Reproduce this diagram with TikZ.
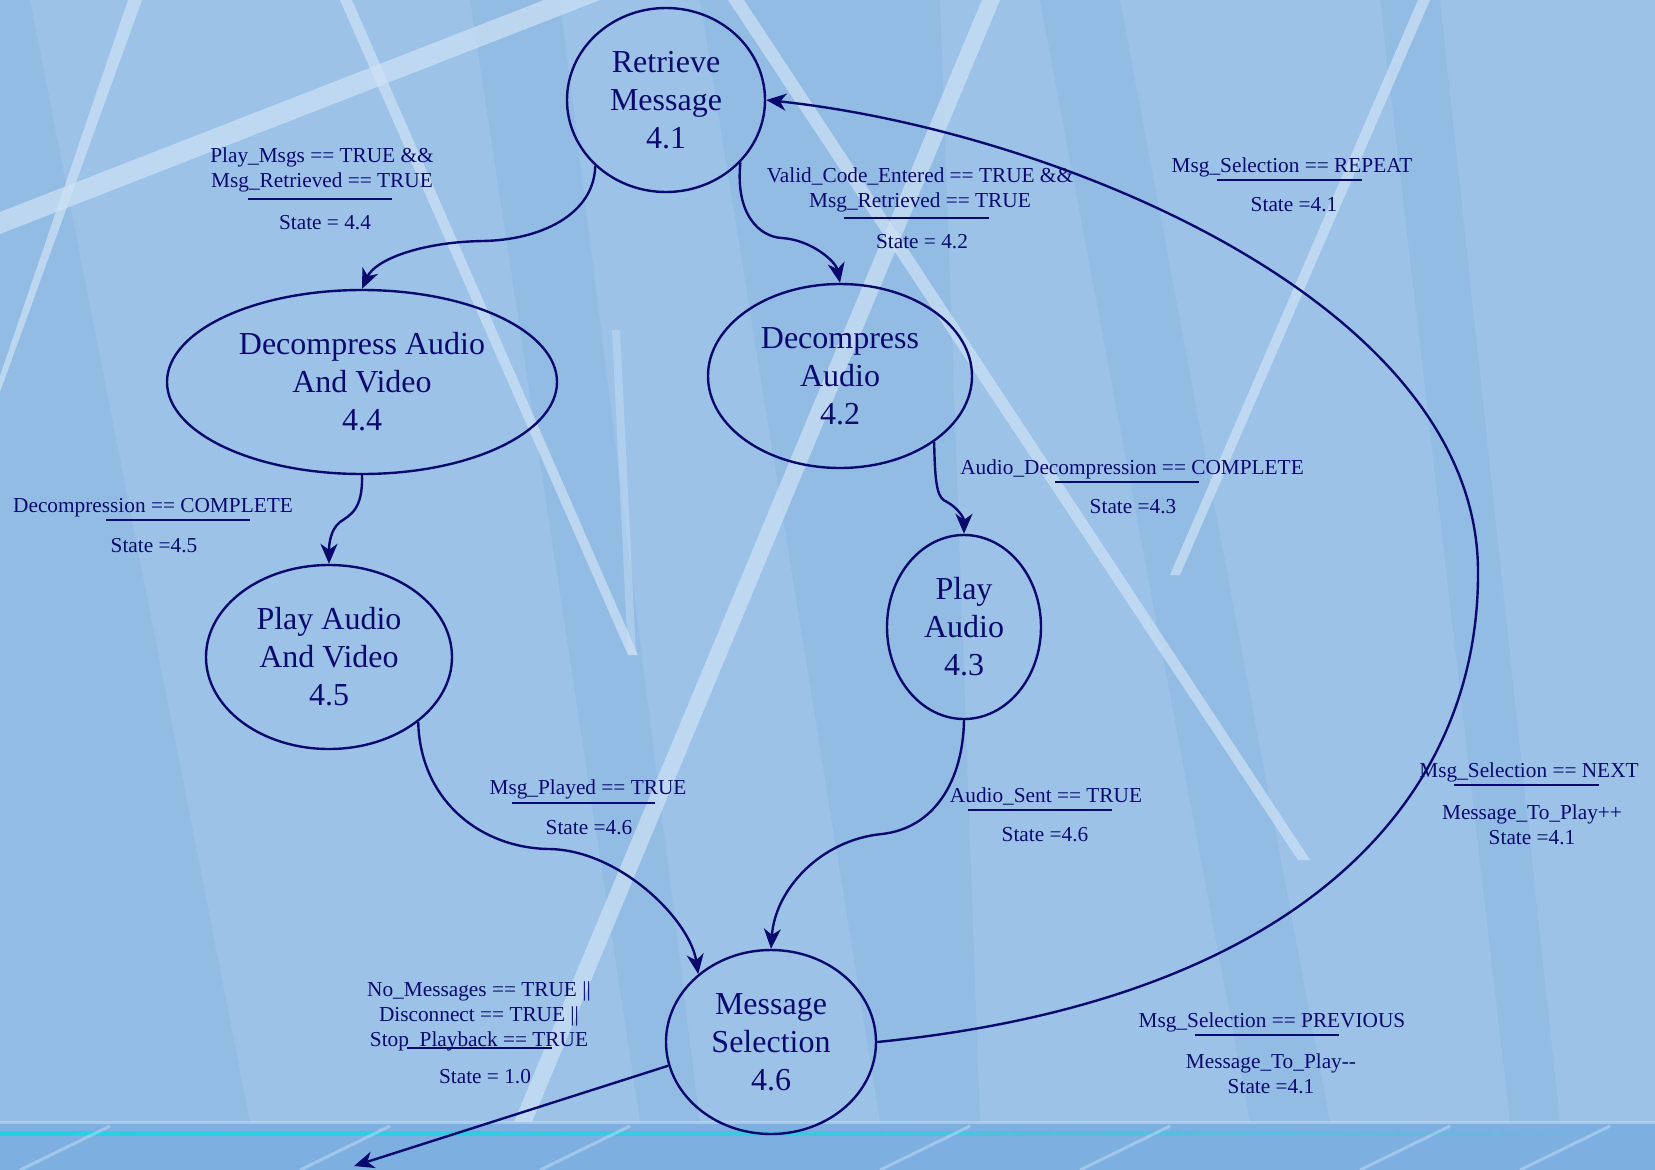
\documentclass[tikz,border=0pt]{standalone}
\usepackage{fontspec}
\setmainfont{Liberation Serif}
\usetikzlibrary{arrows.meta,shapes.geometric}
\definecolor{ink}{HTML}{0A0A6E}
\definecolor{bgbase}{HTML}{9CC2E8}
\definecolor{bgdark}{HTML}{7FAFE0}
\definecolor{bglight}{HTML}{CFE2F5}
\definecolor{bandblue}{HTML}{7DB0E0}
\definecolor{cyanline}{HTML}{22D2E2}
\tikzset{
  state/.style={ellipse, draw=ink, line width=2.4pt, inner sep=0pt, text=ink,
    align=center, font=\fontsize{32}{38}\selectfont},
  edge/.style={draw=ink, line width=2.4pt, -{Stealth[length=20pt,width=17pt,inset=6pt]}},
  cond/.style={text=ink, align=center, inner sep=0pt, font=\fontsize{21.3}{25}\selectfont},
  bar/.style={draw=ink, line width=2.8pt},
  stripe/.style={fill=bglight, opacity=0.7},
  faint/.style={fill=bglight, opacity=0.4},
  panel/.style={fill=bgdark, opacity=0.3}
}
\begin{document}
\begin{tikzpicture}[x=1pt,y=-1pt]
\useasboundingbox (0,0) rectangle (1655,1170);
\clip (0,0) rectangle (1655,1170);

% backdrop: blue field, slanted panels and light streaks
\fill[bgbase] (0,0) rectangle (1655,1170);
\fill[panel] (0,0) -- (30,0) -- (250,1122) -- (0,1122) -- cycle;
\fill[panel] (700,0) -- (940,0) -- (980,1122) -- (880,1122) -- cycle;
\fill[panel] (470,0) -- (560,0) -- (700,1122) -- (640,1122) -- cycle;
\fill[panel] (1040,0) -- (1120,0) -- (1330,1122) -- (1250,1122) -- cycle;
\fill[panel] (1380,0) -- (1440,0) -- (1560,1122) -- (1510,1122) -- cycle;
\fill[stripe] (0,212) -- (544,0) -- (600,0) -- (0,234) -- cycle;
\fill[stripe] (0,376) -- (128,0) -- (142,0) -- (0,392) -- cycle;
\fill[stripe] (340,0) -- (352,0) -- (638,655) -- (628,655) -- cycle;
\fill[stripe] (728,0) -- (744,0) -- (1310,860) -- (1298,860) -- cycle;
\fill[stripe] (982,0) -- (1000,0) -- (514,1165) -- (496,1165) -- cycle;
\fill[stripe] (1418,0) -- (1430,0) -- (1180,575) -- (1170,575) -- cycle;
\fill[faint] (612,330) -- (620,330) -- (636,655) -- (628,655) -- cycle;

% bottom band
\fill[bandblue] (0,1122) rectangle (1655,1170);
\fill[bglight, opacity=0.5] (0,1121) rectangle (1655,1124);
\shade[left color=cyanline, right color=bandblue, middle color=cyanline!70!bandblue] (0,1131) rectangle (1655,1135);
\foreach \xa in {20,300,540,880,1080,1360,1520} {
  \draw[bglight, opacity=0.45, line width=3pt] (\xa,1170) -- (\xa+90,1126);
}

% states
\node[state, minimum width=198pt, minimum height=184pt] (ret) at (666,100) {Retrieve\\Message\\4.1};
\node[state, minimum width=390pt, minimum height=184pt] (dav) at (362,382) {Decompress Audio\\And Video\\4.4};
\node[state, minimum width=264pt, minimum height=184pt] (dau) at (840,376) {Decompress\\Audio\\4.2};
\node[state, minimum width=246pt, minimum height=184pt] (pav) at (329,657) {Play Audio\\And Video\\4.5};
\node[state, minimum width=154pt, minimum height=184pt] (pau) at (964,627) {Play\\Audio\\4.3};
\node[state, minimum width=210pt, minimum height=184pt] (msg) at (771,1042) {Message\\Selection\\4.6};
\coordinate (quit) at (354,1166);

% transitions
\draw[edge] (ret.223) .. controls (594,215) and (540,240) .. (483,241)
  .. controls (420,242) and (375,260) .. (dav.north);
\draw[edge] (ret.-40) .. controls (735,215) and (760,237) .. (782,238)
  .. controls (812,240) and (836,262) .. (dau.north);
\draw[edge] (dav.south) .. controls (363,510) and (350,515) .. (340,522)
  .. controls (330,530) and (329,545) .. (pav.north);
\draw[edge] (dau.-35) .. controls (935,490) and (938,498) .. (947,502)
  .. controls (958,508) and (964,518) .. (pau.north);
\draw[edge] (pav.-36) .. controls (420,800) and (480,848) .. (549,849)
  .. controls (620,850) and (690,920) .. (msg.137);
\draw[edge] (pau.south) .. controls (963,780) and (935,828) .. (882,834)
  .. controls (820,840) and (775,890) .. (msg.north);
\draw[edge] (msg.east) .. controls (1300,1000) and (1480,800) .. (1478,570)
  .. controls (1476,300) and (1050,130) .. (ret.east);
\draw[edge] (msg.193) -- (quit);

% transition conditions
\node[cond] (c1) at (322,170) {Play\_Msgs == TRUE \&\&\\Msg\_Retrieved == TRUE};
\draw[bar] (248,199) -- (392,199);
\node[cond] (s1) at (325,223) {State = 4.4};

\node[cond] (c2) at (920,190) {Valid\_Code\_Entered == TRUE \&\&\\Msg\_Retrieved == TRUE};
\draw[bar] (844,218) -- (989,218);
\node[cond] (s2) at (922,242) {State = 4.2};

\node[cond] (c3) at (1292,167) {Msg\_Selection == REPEAT};
\draw[bar] (1217,180) -- (1362,180);
\node[cond] (s3) at (1294,205) {State =4.1};

\node[cond] (c4) at (153,508) {Decompression == COMPLETE};
\draw[bar] (106,520) -- (250,520);
\node[cond] (s4) at (154,546) {State =4.5};

\node[cond] (c5) at (1132,469) {Audio\_Decompression == COMPLETE};
\draw[bar] (1055,482) -- (1199,482);
\node[cond] (s5) at (1133,507) {State =4.3};

\node[cond] (c6) at (588,789) {Msg\_Played == TRUE};
\draw[bar] (512,803) -- (655,803);
\node[cond] (s6) at (589,828) {State =4.6};

\node[cond] (c7) at (1046,796) {Audio\_Sent == TRUE};
\draw[bar] (968,810) -- (1112,810);
\node[cond] (s7) at (1045,835) {State =4.6};

\node[cond] (c8) at (1529,772) {Msg\_Selection == NEXT};
\draw[bar] (1454,785) -- (1599,785);
\node[cond] (s8) at (1532,825) {Message\_To\_Play++\\State =4.1};

\node[cond] (c9) at (1272,1022) {Msg\_Selection == PREVIOUS};
\draw[bar] (1195,1035) -- (1339,1035);
\node[cond] (s9) at (1271,1074) {Message\_To\_Play-{}-\\State =4.1};

\node[cond] (c10) at (479,1016) {No\_Messages == TRUE ||\\Disconnect == TRUE ||\\Stop\_Playback == TRUE};
\draw[bar] (407,1048) -- (552,1048);
\node[cond] (s10) at (485,1077) {State = 1.0};
\end{tikzpicture}
\end{document}
